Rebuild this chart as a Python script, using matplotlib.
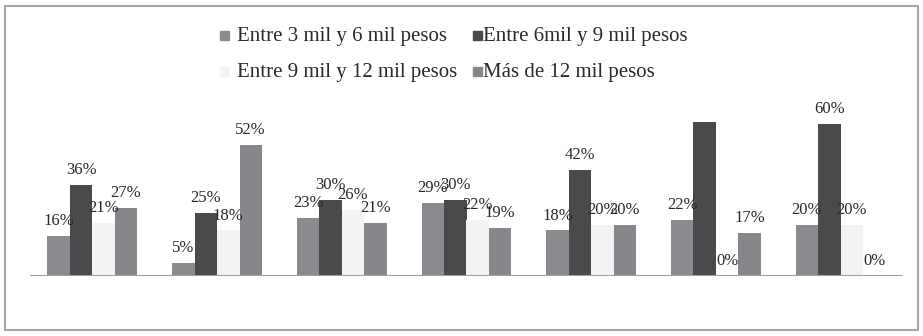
import numpy as np
import matplotlib
matplotlib.use('Agg')
import matplotlib.pyplot as plt
import matplotlib.patches as mpatches

plt.rcParams['font.family'] = ['Liberation Serif', 'DejaVu Serif']

# Data (percent)
groups = ['1', '2', '3', '4', '5', '6', '7']
series_names = ['Entre 3 mil y 6 mil pesos', 'Entre 6mil y 9 mil pesos',
                'Entre 9 mil y 12 mil pesos', 'Más de 12 mil pesos']
s1 = [16, 5, 23, 29, 18, 22, 20]
s2 = [36, 25, 30, 30, 42, 61, 60]
s3 = [21, 18, 26, 22, 20, 0, 20]
s4 = [27, 52, 21, 19, 20, 17, 0]
series = [s1, s2, s3, s4]
colors = ['#8b8b8f', '#4a4a4d', '#f2f3f3', '#87878b']

fig = plt.figure(figsize=(9.23, 3.36), dpi=100)
ax = fig.add_axes([30 / 923, 1 - 276 / 336, 873 / 923, 177 / 336])

x = np.arange(len(groups))
w = 0.18
for i, (vals, c) in enumerate(zip(series, colors)):
    xs = x + (i - 1.5) * w
    ax.bar(xs, vals, width=w, color=c, zorder=2)
    for xi, v in zip(xs, vals):
        t = ax.annotate(f'{v}%', (xi, v), xytext=(0, 5), textcoords='offset points',
                        ha='center', va='bottom', fontsize=12, color='#2a2a2a', zorder=3)
        if v > 60:
            # the top label is mostly hidden in the original
            clip = mpatches.Rectangle((xi - 0.5, 0), 1, v + 2.2, transform=ax.transData)
            t.set_clip_path(clip)

ax.set_xlim(-0.5, len(groups) - 0.5)
ax.set_ylim(0, 70)
ax.axhline(0, color='#a0a0a0', linewidth=1.5, zorder=4)
for s in ax.spines.values():
    s.set_visible(False)
ax.set_xticks([])
ax.set_yticks([])
ax.patch.set_alpha(0)

# legend, placed by hand in two rows
leg_x = [220, 473]
leg_y = [37, 73]
for i, (name, c) in enumerate(zip(series_names, colors)):
    col, row = i % 2, i // 2
    px, py = leg_x[col], leg_y[row]
    fig.patches.append(mpatches.Rectangle(((px) / 923, 1 - (py + 3) / 336), 9 / 923, 9 / 336,
                                          transform=fig.transFigure, color=c, zorder=1))
    fig.text((px + 17 if col == 0 else px + 10) / 923, 1 - py / 336, name,
             fontsize=15, color='#2a2a2a', va='center', ha='left')

# outer border
fig.patches.append(mpatches.Rectangle((5 / 923, 1 - 330 / 336), 913 / 923, 324 / 336,
                                      transform=fig.transFigure, fill=False,
                                      edgecolor='#a6a6a6', linewidth=1.5))

fig.savefig('out.png', dpi=100)
